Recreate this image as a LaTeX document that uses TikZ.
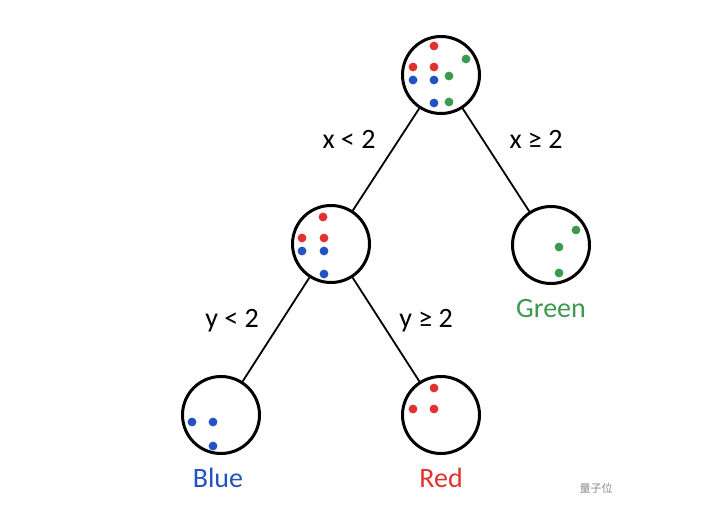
\documentclass[tikz,border=0pt]{standalone}
\usepackage{fontspec}
\setmainfont{Carlito}
\newfontfamily\cjkfont{Noto Sans CJK SC}
\definecolor{dred}{HTML}{E2312F}
\definecolor{dblue}{HTML}{2352C4}
\definecolor{dgreen}{HTML}{3C9A4E}
\definecolor{wmgray}{HTML}{8A8A8A}
\begin{document}
\begin{tikzpicture}[x=1pt,y=-1pt,
  bag/.style={circle,draw=black,line width=3pt,minimum size=77pt,inner sep=0pt},
  edge/.style={line width=1.8pt,black},
  cond/.style={anchor=base,font=\fontsize{28}{30}\selectfont,text=black},
  leaf/.style={anchor=base,font=\fontsize{28}{30}\selectfont},
  rd/.style={fill=dred},
  bd/.style={fill=dblue},
  gd/.style={fill=dgreen}]
\useasboundingbox (0,0) rectangle (720,524);
\fill[white] (0,0) rectangle (720,524);
\node[bag] (root) at (441,75) {};
\node[bag] (mid) at (331,244) {};
\node[bag] (grn) at (551,245) {};
\node[bag] (blu) at (221,415) {};
\node[bag] (red) at (441,415) {};
\draw[edge] (root) -- (mid);
\draw[edge] (root) -- (grn);
\draw[edge] (mid) -- (blu);
\draw[edge] (mid) -- (red);
% dots root
\foreach \x/\y/\s in {434/46/rd,466/59/gd,413/67/rd,434/67/rd,449/76/gd,413/80/bd,434/80/bd,434/103/bd,449/102/gd}
  \fill[\s] (\x,\y) circle (4.4pt);
% dots mid
\foreach \x/\y/\s in {323/217/rd,302/238/rd,324/238/rd,302/251/bd,324/251/bd,324/274/bd}
  \fill[\s] (\x,\y) circle (4.4pt);
% dots green
\foreach \x/\y in {576/230,559/247,559/273}
  \fill[dgreen] (\x,\y) circle (4.4pt);
% dots blue
\foreach \x/\y in {192/422,213/422,213/446}
  \fill[dblue] (\x,\y) circle (4.4pt);
% dots red
\foreach \x/\y in {434/388,413/409,434/409}
  \fill[dred] (\x,\y) circle (4.4pt);
% labels
\node[cond] (lxl) at (349,149) {x < 2};
\node[cond] (lxg) at (536,149) {x ≥ 2};
\node[cond] (lyl) at (232,327) {y < 2};
\node[cond] (lyg) at (426,327) {y ≥ 2};
\node[leaf,text=dgreen] (tg) at (551,317) {Green};
\node[leaf,text=dblue] (tb) at (218,487) {Blue};
\node[leaf,text=dred] (tr) at (441,487) {Red};
\node[text=wmgray,font=\cjkfont\fontsize{11}{12}\selectfont] (wm) at (596,488) {量子位};
\end{tikzpicture}
\end{document}
